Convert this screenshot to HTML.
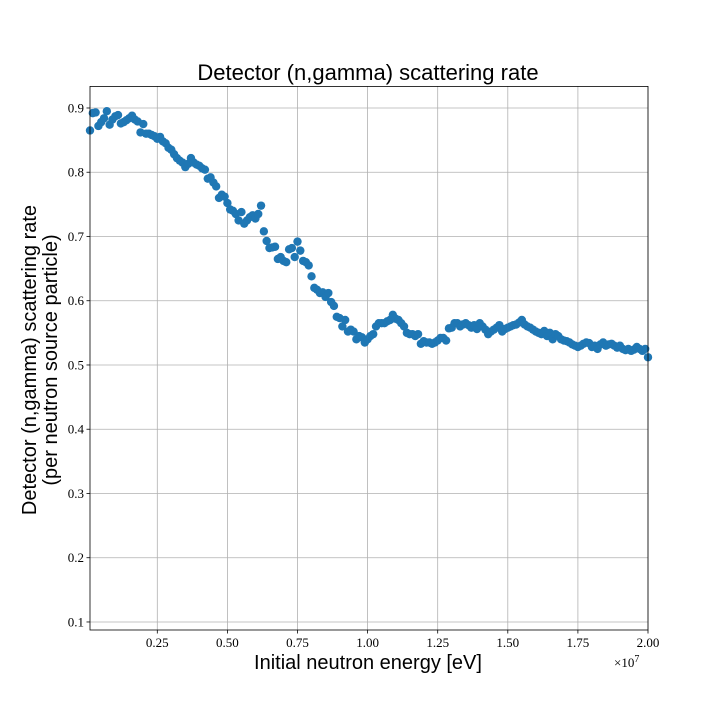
<!DOCTYPE html>
<html><head><meta charset="utf-8"><style>
body{margin:0;background:#fff}
svg text{font-family:"Liberation Serif",serif}
.sans{font-family:"Liberation Sans",sans-serif}
</style></head><body>
<svg id="chart" width="720" height="720" xmlns="http://www.w3.org/2000/svg">
<rect width="720" height="720" fill="#fff"/>
<g id="grid"></g>
<g id="pts"></g>
<g id="axes"></g>
<text class="sans" x="368" y="80" font-size="22" text-anchor="middle">Detector (n,gamma) scattering rate</text>
<text class="sans" x="368" y="669" font-size="20" text-anchor="middle">Initial neutron energy [eV]</text>
<text x="614" y="667" font-size="13">×10<tspan dy="-5" font-size="10">7</tspan></text>
<g transform="translate(36,360) rotate(-90)">
<text class="sans" x="0" y="0" font-size="20" text-anchor="middle">Detector (n,gamma) scattering rate</text>
<text class="sans" x="0" y="21" font-size="20" text-anchor="middle">(per neutron source particle)</text>
</g>
</svg>
<script>
const xTicks=[0.25,0.5,0.75,1.0,1.25,1.5,1.75,2.0];
const xTickLabels=["0.25","0.50","0.75","1.00","1.25","1.50","1.75","2.00"];
const yTicks=[0.1,0.2,0.3,0.4,0.5,0.6,0.7,0.8,0.9];
const yTickLabels=["0.1","0.2","0.3","0.4","0.5","0.6","0.7","0.8","0.9"];
const energies=[];for(let i=1;i<=200;i++)energies.push(i*0.01);
const rates=[.865,.892,.893,.872,.878,.884,.895,.874,.882,.887,
.889,.876,.878,.881,.884,.888,.882,.879,.862,.875,
.860,.860,.858,.856,.852,.855,.848,.845,.838,.835,
.828,.822,.818,.815,.808,.813,.822,.815,.812,.810,
.806,.804,.790,.792,.784,.778,.760,.765,.762,.752,
.742,.740,.735,.725,.738,.720,.725,.730,.733,.728,
.735,.748,.708,.693,.682,.683,.684,.665,.668,.662,
.660,.680,.682,.668,.692,.678,.662,.660,.655,.638,
.620,.617,.612,.613,.606,.612,.598,.592,.575,.573,
.560,.570,.552,.555,.552,.540,.545,.543,.535,.540,
.545,.548,.560,.565,.565,.565,.568,.570,.578,.572,
.570,.565,.560,.550,.548,.548,.545,.548,.533,.537,
.535,.535,.533,.535,.538,.542,.542,.538,.557,.558,
.565,.565,.560,.563,.565,.562,.558,.562,.556,.565,
.560,.555,.548,.552,.555,.558,.562,.552,.556,.558,
.560,.562,.563,.566,.570,.563,.560,.558,.555,.552,
.550,.548,.553,.545,.550,.540,.548,.545,.540,.538,
.537,.535,.532,.530,.528,.530,.533,.535,.534,.528,
.530,.525,.532,.535,.530,.532,.533,.530,.527,.530,
.525,.523,.525,.522,.524,.528,.525,.522,.525,.512];
const L=90,R=648,T=86.4,B=630,X0=0.01,X1=2.0,Y0=0.0875,Y1=0.9336;
const sx=v=>L+(v-X0)/(X1-X0)*(R-L);
const sy=v=>B-(v-Y0)/(Y1-Y0)*(B-T);
const NS="http://www.w3.org/2000/svg";
function mk(t,a,p){const e=document.createElementNS(NS,t);for(const k in a)e.setAttribute(k,a[k]);p.appendChild(e);return e;}
const grid=document.getElementById('grid'),axes=document.getElementById('axes'),pts=document.getElementById('pts');
xTicks.forEach((v,i)=>{const x=sx(v);
const g=mk('line',{x1:x,x2:x,y1:T,y2:B,stroke:'#b0b0b0','stroke-width':0.8},grid);


mk('line',{x1:x,x2:x,y1:B,y2:B+3.5,stroke:'#000','stroke-width':0.8},axes);
const t=mk('text',{x:x,y:B+17,'font-size':13,'text-anchor':'middle'},axes);t.textContent=xTickLabels[i];

});
yTicks.forEach((v,i)=>{const y=sy(v);
const g=mk('line',{x1:L,x2:R,y1:y,y2:y,stroke:'#b0b0b0','stroke-width':0.8},grid);


mk('line',{x1:L-3.5,x2:L,y1:y,y2:y,stroke:'#000','stroke-width':0.8},axes);
const t=mk('text',{x:L-6,y:y+4.5,'font-size':13,'text-anchor':'end'},axes);t.textContent=yTickLabels[i];

});
mk('rect',{x:L,y:T,width:R-L,height:B-T,fill:'none',stroke:'#000','stroke-width':0.8},axes);
energies.forEach((e,i)=>{const c=mk('circle',{cx:sx(e),cy:sy(rates[i]),r:4.2,fill:'#1f77b4'},pts);

});
</script>
</body></html>
